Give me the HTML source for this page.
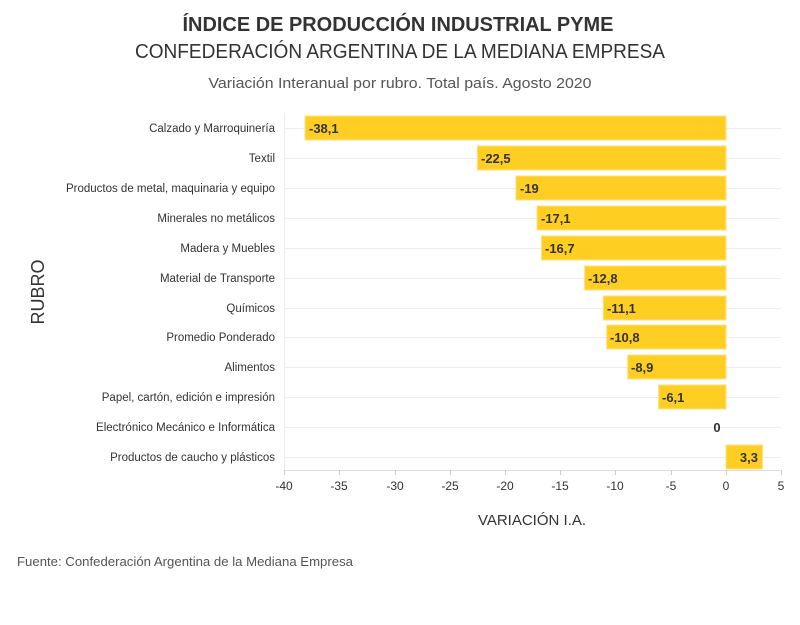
<!DOCTYPE html>
<html><head><meta charset="utf-8"><style>
html,body{margin:0;padding:0;background:#fff;}
svg{display:block;font-family:"Liberation Sans",sans-serif;}
</style></head><body>
<svg width="800" height="625" viewBox="0 0 800 625" xmlns="http://www.w3.org/2000/svg">
<rect width="800" height="625" fill="#fff"/>
<text x="398" y="31" text-anchor="middle" font-size="20" font-weight="bold" fill="#333" textLength="431" lengthAdjust="spacingAndGlyphs">ÍNDICE DE PRODUCCIÓN INDUSTRIAL PYME</text>
<text x="400" y="58" text-anchor="middle" font-size="20" fill="#333" textLength="530" lengthAdjust="spacingAndGlyphs">CONFEDERACIÓN ARGENTINA DE LA MEDIANA EMPRESA</text>
<text x="400" y="88" text-anchor="middle" font-size="15" fill="#555" textLength="383" lengthAdjust="spacingAndGlyphs">Variación Interanual por rubro. Total país. Agosto 2020</text>
<g stroke="#eee" stroke-width="1">
<line x1="284.5" y1="113" x2="284.5" y2="470"/>
<line x1="284" y1="128.5" x2="781" y2="128.5"/><line x1="284" y1="158.5" x2="781" y2="158.5"/><line x1="284" y1="188.5" x2="781" y2="188.5"/><line x1="284" y1="218.5" x2="781" y2="218.5"/><line x1="284" y1="248.5" x2="781" y2="248.5"/><line x1="284" y1="278.5" x2="781" y2="278.5"/><line x1="284" y1="308.5" x2="781" y2="308.5"/><line x1="284" y1="337.5" x2="781" y2="337.5"/><line x1="284" y1="367.5" x2="781" y2="367.5"/><line x1="284" y1="397.5" x2="781" y2="397.5"/><line x1="284" y1="427.5" x2="781" y2="427.5"/><line x1="284" y1="457.5" x2="781" y2="457.5"/>
</g>
<g fill="#ffce22" stroke="#ffe080" stroke-width="1">
<rect x="305" y="116" width="421" height="24"/>
<rect x="477.4" y="146" width="248.6" height="24"/>
<rect x="516" y="176" width="210" height="24"/>
<rect x="537" y="206" width="189" height="24"/>
<rect x="541.5" y="236" width="184.5" height="24"/>
<rect x="584.6" y="266" width="141.4" height="24"/>
<rect x="603.3" y="296" width="122.7" height="24"/>
<rect x="606.7" y="325" width="119.3" height="24"/>
<rect x="627.7" y="355" width="98.3" height="24"/>
<rect x="658.6" y="385" width="67.4" height="24"/>
<rect x="726" y="445" width="36.5" height="24"/>
</g>
<g font-size="13" font-weight="bold" fill="#333">
<text x="309" y="133">-38,1</text>
<text x="481" y="163">-22,5</text>
<text x="520" y="193">-19</text>
<text x="541" y="223">-17,1</text>
<text x="545" y="253">-16,7</text>
<text x="588" y="283">-12,8</text>
<text x="607" y="313">-11,1</text>
<text x="610" y="342">-10,8</text>
<text x="631" y="372">-8,9</text>
<text x="662" y="402">-6,1</text>
<text x="717" y="432" text-anchor="middle">0</text>
<text x="758" y="462" text-anchor="end">3,3</text>
</g>
<g font-size="11.5" fill="#333" text-anchor="end">
<text x="275" y="132">Calzado y Marroquinería</text>
<text x="275" y="162">Textil</text>
<text x="275" y="192">Productos de metal, maquinaria y equipo</text>
<text x="275" y="222">Minerales no metálicos</text>
<text x="275" y="252">Madera y Muebles</text>
<text x="275" y="282">Material de Transporte</text>
<text x="275" y="312">Químicos</text>
<text x="275" y="341">Promedio Ponderado</text>
<text x="275" y="371">Alimentos</text>
<text x="275" y="401">Papel, cartón, edición e impresión</text>
<text x="275" y="431">Electrónico Mecánico e Informática</text>
<text x="275" y="461">Productos de caucho y plásticos</text>
</g>
<line x1="284" y1="470.5" x2="781" y2="470.5" stroke="#ddd"/>
<g stroke="#ccc">
<line x1="284.5" y1="470" x2="284.5" y2="475"/><line x1="339.5" y1="470" x2="339.5" y2="475"/><line x1="395.5" y1="470" x2="395.5" y2="475"/><line x1="450.5" y1="470" x2="450.5" y2="475"/><line x1="505.5" y1="470" x2="505.5" y2="475"/><line x1="560.5" y1="470" x2="560.5" y2="475"/><line x1="615.5" y1="470" x2="615.5" y2="475"/><line x1="671.5" y1="470" x2="671.5" y2="475"/><line x1="726.5" y1="470" x2="726.5" y2="475"/><line x1="781.5" y1="470" x2="781.5" y2="475"/>
</g>
<g font-size="12" fill="#333" text-anchor="middle">
<text x="284" y="490">-40</text><text x="339" y="490">-35</text><text x="395" y="490">-30</text><text x="450" y="490">-25</text><text x="505" y="490">-20</text><text x="560" y="490">-15</text><text x="615" y="490">-10</text><text x="671" y="490">-5</text><text x="726" y="490">0</text><text x="781" y="490">5</text>
</g>
<text x="532" y="525" text-anchor="middle" font-size="15" fill="#333">VARIACIÓN I.A.</text>
<text transform="translate(44,292) rotate(-90)" text-anchor="middle" font-size="18" fill="#333">RUBRO</text>
<text x="17" y="566" font-size="13" fill="#555" textLength="336" lengthAdjust="spacingAndGlyphs">Fuente: Confederación Argentina de la Mediana Empresa</text>
</svg>
</body></html>
